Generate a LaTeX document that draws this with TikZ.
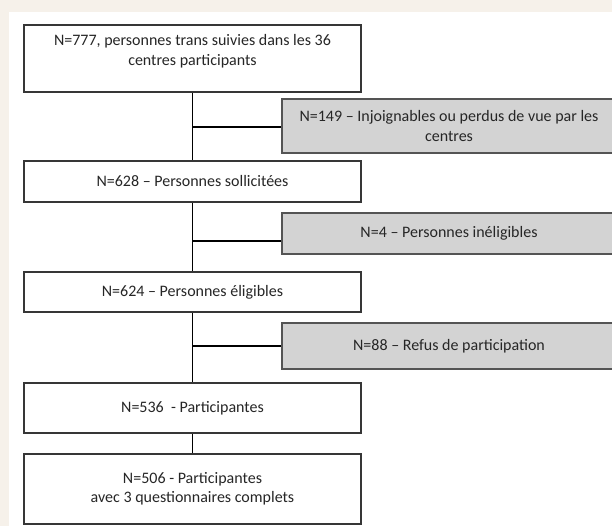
\documentclass[tikz,border=0pt]{standalone}
\usepackage{fontspec}
\setmainfont{Carlito}

\definecolor{fond}{HTML}{F6F1EA}
\definecolor{trait}{HTML}{363636}
\definecolor{grisbox}{HTML}{D3D3D3}

\begin{document}
\begin{tikzpicture}[x=1pt, y=-1pt,
        boite/.style={draw=trait, line width=1.4pt, fill=white, minimum width=337pt, align=center, inner sep=0pt},
        exclu/.style={draw=trait!85, line width=1.4pt, fill=grisbox, minimum width=334pt, align=center, inner sep=0pt},
        lien/.style={black, line width=1.6pt},
        font=\fontsize{16}{19.5}\selectfont, text=black!85]
        \clip (0,0) rectangle (612,526);
        \fill[fond] (0,0) rectangle (612,526);
        \fill[white] (9,12) rectangle (612,526);
        \node[boite, minimum height=67pt] (tous) at (192.5,58.5) {};
        \node[anchor=north, align=center, inner sep=0pt] (tousTxt) at ([yshift=-10pt]tous.north) {N=777, personnes trans suivies dans les 36\\centres participants};
        \node[exclu, minimum height=54pt] (perdus) at (449,126) {N=149 – Injoignables ou perdus de vue par les\\centres};
        \node[boite, minimum height=41pt] (sollic) at (192.5,181.5) {N=628 – Personnes sollicitées};
        \node[exclu, minimum height=41pt] (inelig) at (449,233.5) {N=4 – Personnes inéligibles};
        \node[boite, minimum height=40pt] (eligib) at (192.5,292) {N=624 – Personnes éligibles};
        \node[exclu, minimum height=46pt] (refus) at (449,346) {N=88 – Refus de participation};
        \node[boite, minimum height=50pt] (partic) at (192.5,408) {N=536 \ - Participantes};
        \node[boite, minimum height=70pt] (complet) at (192.5,489) {N=506 - Participantes\\avec 3 questionnaires complets};
        \coordinate (j1) at (192.5,127);
        \coordinate (j2) at (192.5,241);
        \coordinate (j3) at (192.5,346);
        \draw[lien] (tous.south) -- (sollic.north);
        \draw[lien] (sollic.south) -- (eligib.north);
        \draw[lien] (eligib.south) -- (partic.north);
        \draw[lien] (partic.south) -- (complet.north);
        \draw[lien] (j1) -- (j1 -| perdus.west);
        \draw[lien] (j2) -- (j2 -| inelig.west);
        \draw[lien] (j3) -- (j3 -| refus.west);
%        \draw[lien] (j3) -- (refus.west);
    \end{tikzpicture}
\end{document}
